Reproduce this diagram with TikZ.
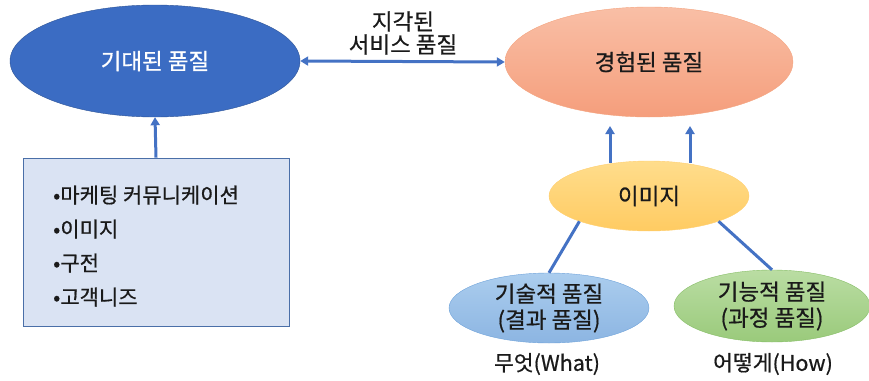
\documentclass[tikz,border=0pt]{standalone}
\usepackage{fontspec}
\setmainfont{Noto Sans CJK KR}[FakeBold=0.6]
\usetikzlibrary{shapes.geometric,arrows.meta}

\definecolor{linkblue}{HTML}{4472C4}
\definecolor{deepblue}{HTML}{3B6CC3}
\definecolor{deepblueline}{HTML}{2F5597}
\definecolor{salmontop}{HTML}{F9BFA6}
\definecolor{salmonbot}{HTML}{F59E7C}
\definecolor{salmonline}{HTML}{F4A47F}
\definecolor{goldtop}{HTML}{FFDD8C}
\definecolor{goldbot}{HTML}{FFCB62}
\definecolor{goldline}{HTML}{FFCF70}
\definecolor{skytop}{HTML}{ABCDEE}
\definecolor{skybot}{HTML}{8CB5E2}
\definecolor{skyline}{HTML}{6FA3DA}
\definecolor{leaftop}{HTML}{BADDA3}
\definecolor{leafbot}{HTML}{9ACA7B}
\definecolor{leafline}{HTML}{86BD66}
\definecolor{boxfill}{HTML}{DAE3F3}
\definecolor{boxline}{HTML}{4A6FA8}
\definecolor{ink}{HTML}{1A1A1A}

\tikzset{
  oval/.style={ellipse, inner sep=0pt, align=center, text=ink,
    font=\fontsize{22.5}{26}\selectfont},
  link/.style={draw=linkblue, line width=3pt},
  tip/.style={-{Triangle[length=8pt,width=9pt]}},
  bothtips/.style={{Triangle[length=8pt,width=9pt]}-{Triangle[length=8pt,width=9pt]}},
  label/.style={text=ink, align=center, font=\fontsize{22.5}{23}\selectfont},
}

\begin{document}
\begin{tikzpicture}[x=1pt,y=-1pt]
\useasboundingbox (0,0) rectangle (869,380);

% upper ellipses
\node[oval, fill=deepblue, draw=deepblueline, text=white,
      minimum width=290pt, minimum height=112pt] (expect) at (155,61) {기대된 품질};
\node[oval, top color=salmontop, bottom color=salmonbot, draw=salmonline,
      minimum width=288pt, minimum height=110pt] (exper) at (649,62) {경험된 품질};

% perceived quality link
\draw[link, bothtips] (expect.east) -- (exper.west);
\node[label] (perceived) at (403,33) {지각된\\서비스 품질};

% factor box
\node[draw=boxline, fill=boxfill, line width=0.8pt, minimum width=266pt,
      minimum height=168pt, inner sep=0pt] (box) at (156,242) {};
\node[anchor=west, align=left, text=ink, inner sep=0pt,
      font=\fontsize{21}{34}\selectfont] (factors) at (53,246)
  {•마케팅 커뮤니케이션\\•이미지\\•구전\\•고객니즈};
\draw[link, tip] (box.north) -- (expect.south);

% image and its components
\node[oval, top color=goldtop, bottom color=goldbot, draw=goldline,
      minimum width=200pt, minimum height=70pt] (img) at (649,196) {이미지};
\node[oval, top color=skytop, bottom color=skybot, draw=skyline,
      minimum width=200pt, minimum height=70pt] (tech) at (549,308) {기술적 품질\\(결과 품질)};
\node[oval, top color=leaftop, bottom color=leafbot, draw=leafline,
      minimum width=196pt, minimum height=72pt] (func) at (772,306) {기능적 품질\\(과정 품질)};

\coordinate (upL) at (610,126);
\coordinate (upR) at (690,126);
\draw[link, tip] (img.north -| upL) ++(0,2) -- (upL);
\draw[link, tip] (img.north -| upR) ++(0,2) -- (upR);

\draw[link] (img.200) -- (tech.north);
\draw[link] (img.340) -- (func.north);

\node[label, font=\fontsize{21.5}{23}\selectfont] (what) at (547,364) {무엇(What)};
\node[label, font=\fontsize{21.5}{23}\selectfont] (how) at (773,364) {어떻게(How)};
\end{tikzpicture}
\end{document}
